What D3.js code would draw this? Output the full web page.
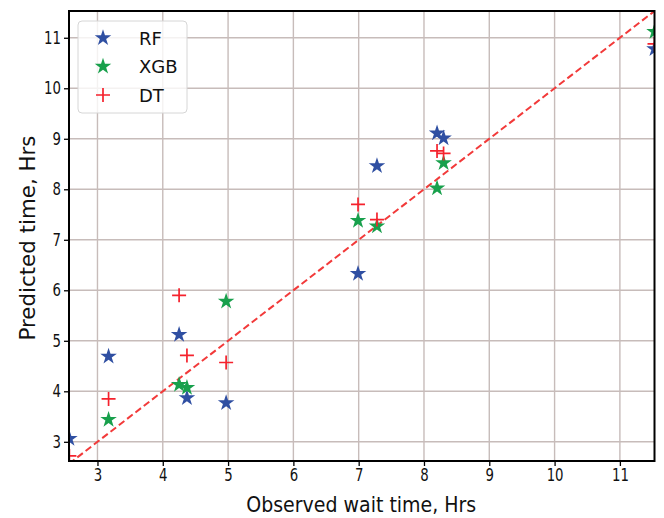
<!DOCTYPE html>
<html>
<head>
<meta charset="utf-8">
<script src="https://cdn.jsdelivr.net/npm/d3@7"></script>
<style>
  body { margin: 0; background: #fff; }
  svg { display: block; }
  text { font-family: "DejaVu Sans", sans-serif; fill: #111; }
</style>
</head>
<body>
<svg id="chart" width="664" height="518"></svg>
<script>
// Observed vs predicted wait time (hours) for three regressors
const observedRF  = [2.57, 3.17, 4.25, 4.37, 4.97, 6.99, 7.28, 8.20, 8.30, 11.53];
const predictedRF = [3.06, 4.69, 5.12, 3.87, 3.77, 6.33, 8.46, 9.11, 9.01, 10.78];

const observedXGB  = [3.17, 4.25, 4.37, 4.97, 6.99, 7.28, 8.20, 8.30, 11.53];
const predictedXGB = [3.44, 4.13, 4.07, 5.78, 7.38, 7.27, 8.02, 8.52, 11.12];

const observedDT  = [2.57, 3.17, 4.25, 4.37, 4.97, 6.99, 7.28, 8.20, 8.30, 11.53];
const predictedDT = [2.72, 3.85, 5.90, 4.71, 4.57, 7.70, 7.40, 8.76, 8.71, 10.88];

const xTicks = [3, 4, 5, 6, 7, 8, 9, 10, 11];
const yTicks = [3, 4, 5, 6, 7, 8, 9, 10, 11];
const xDomain = [2.564, 11.53];
const yDomain = [2.62, 11.53];
const seriesNames = ["RF", "XGB", "DT"];

const svg = d3.select("#chart");
const plot = { left: 69, right: 654.5, top: 11, bottom: 461 };

const x = d3.scaleLinear().domain(xDomain).range([plot.left, plot.right]);
const y = d3.scaleLinear().domain(yDomain).range([plot.bottom, plot.top]);

svg.append("defs").append("clipPath").attr("id", "plot-clip")
  .append("rect")
  .attr("x", plot.left).attr("y", plot.top)
  .attr("width", plot.right - plot.left).attr("height", plot.bottom - plot.top);

// grid
const grid = svg.append("g");
grid.selectAll(".gx").data(xTicks).join("line")
  .attr("x1", d => x(d)).attr("x2", d => x(d))
  .attr("y1", plot.top).attr("y2", plot.bottom)
  .attr("stroke", "#c7bcba").attr("stroke-width", 1.4);
grid.selectAll(".gy").data(yTicks).join("line")
  .attr("y1", d => y(d)).attr("y2", d => y(d))
  .attr("x1", plot.left).attr("x2", plot.right)
  .attr("stroke", "#c7bcba").attr("stroke-width", 1.4);

const marks = svg.append("g").attr("clip-path", "url(#plot-clip)");

// identity line
const lo = Math.min(xDomain[0], yDomain[0]);
const hi = Math.max(xDomain[1], yDomain[1]);
marks.append("line")
  .attr("x1", x(lo)).attr("y1", y(lo))
  .attr("x2", x(hi)).attr("y2", y(hi))
  .attr("stroke", "#f23a3a").attr("stroke-width", 2)
  .attr("stroke-dasharray", "7,3.5");

const colors = { RF: "#2f4fa2", XGB: "#18a04c", DT: "#f5222d" };
const star = d3.symbol().type(d3.symbolStar).size(85);

function zip(xs, ys) { return xs.map((v, i) => [v, ys[i]]); }

function drawStars(data, color) {
  marks.append("g").selectAll("path").data(data).join("path")
    .attr("d", star)
    .attr("transform", d => `translate(${x(d[0])},${y(d[1])})`)
    .attr("fill", color);
}
function drawPlus(data, color) {
  const g = marks.append("g").selectAll("g").data(data).join("g")
    .attr("transform", d => `translate(${x(d[0])},${y(d[1])})`);
  g.append("path").attr("d", "M-7,0H7M0,-7V7")
    .attr("stroke", color).attr("stroke-width", 1.7).attr("fill", "none");
}

drawStars(zip(observedRF, predictedRF), colors.RF);
drawStars(zip(observedXGB, predictedXGB), colors.XGB);
drawPlus(zip(observedDT, predictedDT), colors.DT);

// axes
const xAxis = svg.append("g").attr("transform", `translate(0,${plot.bottom})`)
  .call(d3.axisBottom(x).tickValues(xTicks).tickFormat(d3.format("d")).tickSize(5).tickPadding(3));
const yAxis = svg.append("g").attr("transform", `translate(${plot.left},0)`)
  .call(d3.axisLeft(y).tickValues(yTicks).tickFormat(d3.format("d")).tickSize(5).tickPadding(3));
[xAxis, yAxis].forEach(a => {
  a.select(".domain").remove();
  a.selectAll(".tick line").attr("stroke", "#000").attr("stroke-width", 1.3);
  a.selectAll(".tick text").attr("font-size", 17.5).attr("fill", "#111")
    .attr("font-family", "DejaVu Sans")
    .each(function() {
      const w = this.getComputedTextLength();
      d3.select(this).attr("textLength", w * 0.76).attr("lengthAdjust", "spacingAndGlyphs");
    });
});

// frame
svg.append("rect")
  .attr("x", plot.left).attr("y", plot.top)
  .attr("width", plot.right - plot.left).attr("height", plot.bottom - plot.top)
  .attr("fill", "none").attr("stroke", "#000").attr("stroke-width", 2);

// axis titles
svg.append("text")
  .attr("x", (plot.left + plot.right) / 2 - 0.5).attr("y", 512)
  .attr("text-anchor", "middle").attr("font-size", 21)
  .attr("textLength", 230).attr("lengthAdjust", "spacingAndGlyphs")
  .text("Observed wait time, Hrs");
svg.append("text")
  .attr("transform", `translate(35,${(plot.top + plot.bottom) / 2 + 2}) rotate(-90)`)
  .attr("text-anchor", "middle").attr("font-size", 21)
  .attr("textLength", 205).attr("lengthAdjust", "spacingAndGlyphs")
  .text("Predicted time, Hrs");

// legend
const legend = svg.append("g").attr("transform", "translate(78,21)");
legend.append("rect")
  .attr("width", 109).attr("height", 92).attr("rx", 4)
  .attr("fill", "#fff").attr("fill-opacity", 0.8)
  .attr("stroke", "#d6d6d6").attr("stroke-width", 1);
seriesNames.forEach((name, i) => {
  const row = legend.append("g").attr("transform", `translate(25,${17 + i * 28.5})`);
  if (name === "DT") {
    row.append("path").attr("d", "M-7,0H7M0,-7V7")
      .attr("stroke", colors[name]).attr("stroke-width", 1.7);
  } else {
    row.append("path").attr("d", star).attr("fill", colors[name]);
  }
  row.append("text").attr("x", 36).attr("y", 6.5)
    .attr("font-size", 18).text(name);
});
</script>
</body>
</html>
